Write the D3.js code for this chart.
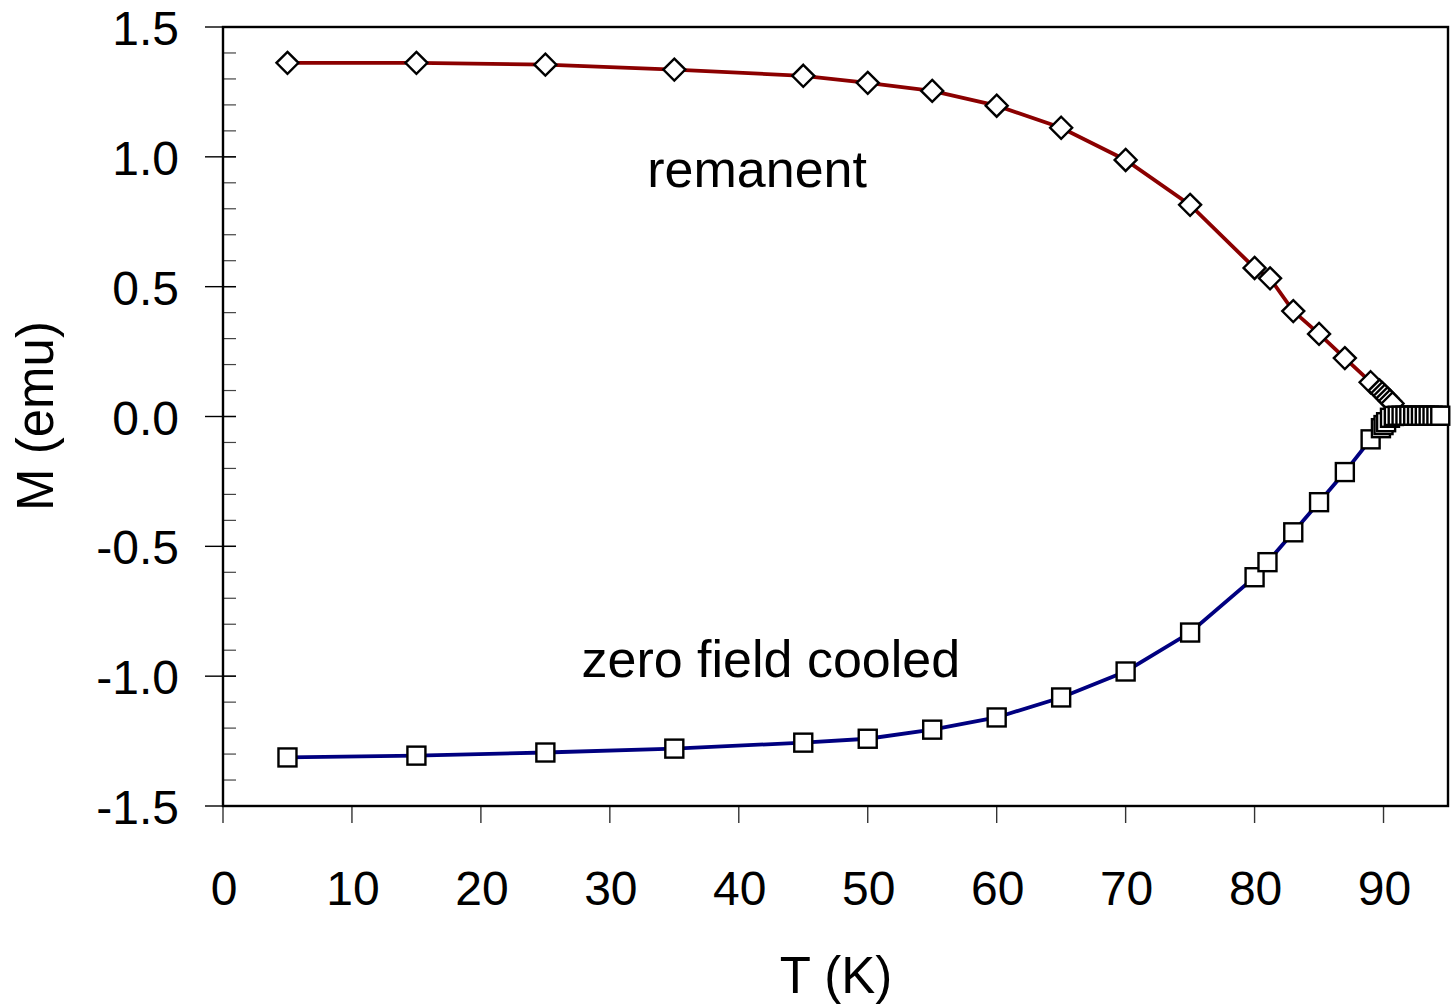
<!DOCTYPE html>
<html><head><meta charset="utf-8">
<script src="https://cdn.jsdelivr.net/npm/d3@7"></script>
<style>body{margin:0;background:#fff}svg{display:block}text{font-family:"Liberation Sans",Arial,sans-serif;fill:#000}</style>
</head><body><svg id="c" width="1451" height="1007"></svg>
<script>
const remT = [5,15,25,35,45,50,55,60,65,70,75,80,81.2,83,85,87,89,89.7,89.9,90.1,90.3,90.5,90.7];
const remM = [1.362,1.362,1.355,1.336,1.312,1.285,1.254,1.197,1.112,0.988,0.815,0.572,0.532,0.406,0.318,0.225,0.132,0.100,0.090,0.080,0.070,0.060,0.050];
const zfcT = [5,15,25,35,45,50,55,60,65,70,75,80,81,83,85,87,89,89.8,90.0,90.2,90.5,90.8,91.1,91.4,91.7,92.0,92.3,92.6,92.9,93.2,93.5,93.8,94.1,94.4];
const zfcM = [-1.313,-1.306,-1.294,-1.279,-1.256,-1.241,-1.206,-1.159,-1.082,-0.982,-0.832,-0.619,-0.561,-0.446,-0.330,-0.214,-0.088,-0.045,-0.033,-0.022,-0.005,0.002,0.003,0.003,0.003,0.003,0.003,0.003,0.003,0.003,0.003,0.003,0.003,0.003];
const xTicks = [0,10,20,30,40,50,60,70,80,90];
const yTicks = [-1.5,-1.0,-0.5,0.0,0.5,1.0,1.5];
const yTickLabels = ["-1.5","-1.0","-0.5","0.0","0.5","1.0","1.5"];
const labels = [{text:"remanent", T:32.9, M:0.884},{text:"zero field cooled", T:27.8, M:-1.003}];

const svg = d3.select("#c");
const x = d3.scaleLinear().domain([0,95]).range([223,1448]);
const y = d3.scaleLinear().domain([-1.5,1.5]).range([806,27]);

// minor y ticks (inside)
const minor = d3.range(-15,16).map(d=>d/10);
svg.append("g").selectAll("line").data(minor).join("line")
  .attr("x1",x(0)).attr("x2",x(0)+13).attr("y1",d=>y(d)).attr("y2",d=>y(d))
  .attr("stroke","#444").attr("stroke-width",1.2);
// major y ticks
svg.append("g").selectAll("line").data(yTicks).join("line")
  .attr("x1",x(0)-18).attr("x2",x(0)+13).attr("y1",d=>y(d)).attr("y2",d=>y(d))
  .attr("stroke","#000").attr("stroke-width",1.4);
// x ticks
svg.append("g").selectAll("line").data(xTicks).join("line")
  .attr("x1",d=>x(d)).attr("x2",d=>x(d)).attr("y1",y(-1.5)).attr("y2",y(-1.5)+17)
  .attr("stroke","#333").attr("stroke-width",1.4);

// frame
svg.append("rect").attr("x",x(0)).attr("y",y(1.5)).attr("width",x(95)-x(0)).attr("height",y(-1.5)-y(1.5))
  .attr("fill","none").attr("stroke","#000").attr("stroke-width",2.4);

// tick labels
svg.append("g").selectAll("text").data(yTicks).join("text")
  .attr("x",179).attr("y",d=>y(d)+18).attr("text-anchor","end").attr("font-size",48)
  .text((d,i)=>yTickLabels[i]);
svg.append("g").selectAll("text").data(xTicks).join("text")
  .attr("x",d=>x(d)+1).attr("y",905).attr("text-anchor","middle").attr("font-size",48)
  .text(d=>d);

// axis titles
svg.append("text").attr("x",836).attr("y",993).attr("text-anchor","middle").attr("font-size",51).text("T (K)");
svg.append("text").attr("transform","translate(53,416) rotate(-90)").attr("text-anchor","middle").attr("font-size",51).text("M (emu)");

// lines
const line = (T,M)=>d3.line().x((d,i)=>x(T[i])).y((d,i)=>y(M[i]))(T);
svg.append("path").attr("d",line(remT,remM)).attr("fill","none").attr("stroke","#8b0000").attr("stroke-width",3.8);
svg.append("path").attr("d",line(zfcT,zfcM)).attr("fill","none").attr("stroke","#000080").attr("stroke-width",3.8);

// markers
const r = 11;
svg.append("g").selectAll("path").data(remT).join("path")
  .attr("d",(d,i)=>{const cx=x(remT[i]),cy=y(remM[i]);return `M${cx},${cy-r}L${cx+r},${cy}L${cx},${cy+r}L${cx-r},${cy}Z`;})
  .attr("fill","#fff").attr("stroke","#000").attr("stroke-width",2.4);
svg.append("g").selectAll("rect").data(zfcT).join("rect")
  .attr("x",(d,i)=>x(zfcT[i])-9).attr("y",(d,i)=>y(zfcM[i])-9).attr("width",18).attr("height",18)
  .attr("fill","#fff").attr("stroke","#000").attr("stroke-width",2.4);

// annotations
svg.append("g").selectAll("text").data(labels).join("text")
  .attr("x",d=>x(d.T)).attr("y",d=>y(d.M)).attr("font-size",52).text(d=>d.text);
</script></body></html>
